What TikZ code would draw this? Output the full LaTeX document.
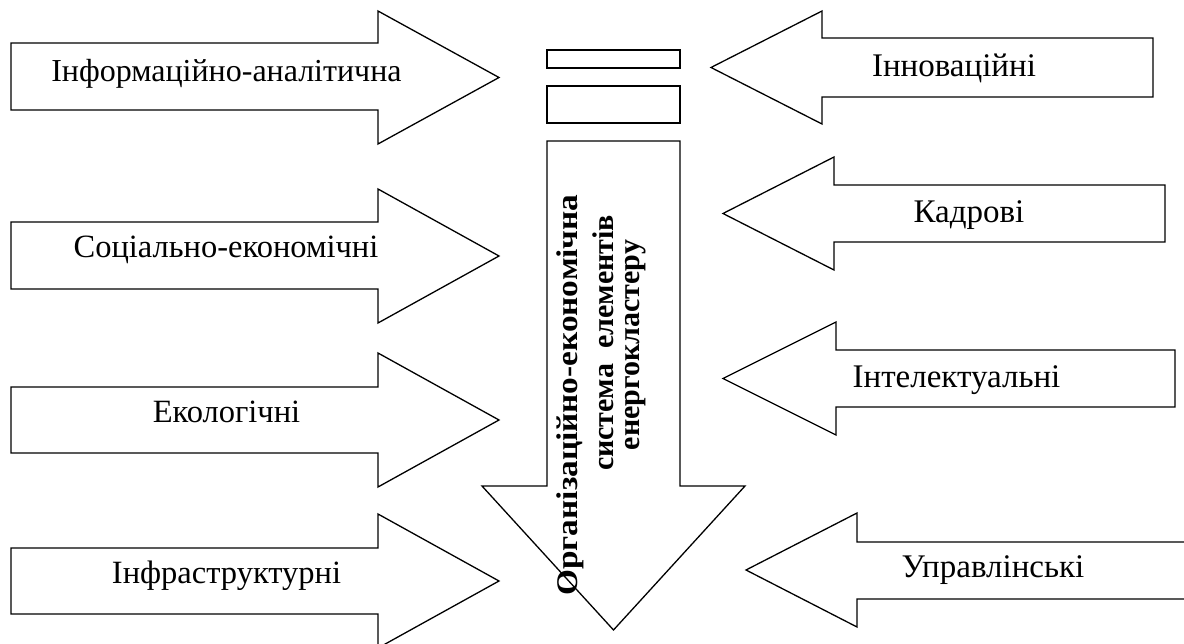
\documentclass[tikz,border=0pt]{standalone}
\usepackage{fontspec}
\setmainfont{Liberation Serif}
\begin{document}
\begin{tikzpicture}[x=1pt,y=-1pt,
  shp/.style={draw=black,line width=1.3pt,fill=white,line join=miter},
  lbl/.style={inner sep=0pt,anchor=base,font=\fontsize{32.5}{36}\selectfont},
  rlbl/.style={lbl,font=\fontsize{33}{36}\selectfont},
  vlbl/.style={inner sep=0pt,rotate=90,font=\fontsize{30}{34}\selectfont\bfseries}]
\useasboundingbox (0,0) rectangle (1184,644);
\fill[white] (0,0) rectangle (1184,644);
% left arrows
\draw[shp] (11,43) -- (378,43) -- (378,11) -- (499,77.5) -- (378,144) -- (378,110) -- (11,110) -- cycle;
\draw[shp] (11,222) -- (378,222) -- (378,189) -- (499,256) -- (378,323) -- (378,289) -- (11,289) -- cycle;
\draw[shp] (11,387) -- (378,387) -- (378,353) -- (499,420) -- (378,487) -- (378,453) -- (11,453) -- cycle;
\draw[shp] (11,548) -- (378,548) -- (378,514) -- (499,581) -- (378,648) -- (378,614) -- (11,614) -- cycle;
% right arrows
\draw[shp] (1153,38) -- (822,38) -- (822,11) -- (711,67.5) -- (822,124) -- (822,97) -- (1153,97) -- cycle;
\draw[shp] (1165,185) -- (834,185) -- (834,157) -- (723,213.5) -- (834,270) -- (834,242) -- (1165,242) -- cycle;
\draw[shp] (1175,350) -- (836,350) -- (836,322) -- (723,378.5) -- (836,435) -- (836,407) -- (1175,407) -- cycle;
\draw[shp] (1190,542) -- (857,542) -- (857,513) -- (746,570) -- (857,627) -- (857,599) -- (1190,599) -- cycle;
% small rectangles
\draw[shp] (547,50) rectangle (680,68);
\draw[shp] (547,86) rectangle (680,123);
% central down arrow
\draw[shp] (547,141) -- (680,141) -- (680,486) -- (745,486) -- (613.5,630) -- (482,486) -- (547,486) -- cycle;
% labels
\node[lbl,font=\fontsize{32}{36}\selectfont] (t1) at (226.5,82) {Інформаційно-аналітична};
\node[lbl] (t2) at (226,258) {Соціально-економічні};
\node[lbl] (t3) at (226.5,422) {Екологічні};
\node[lbl] (t4) at (226.5,583) {Інфраструктурні};
\node[rlbl] (t5) at (954,77) {Інноваційні};
\node[rlbl] (t6) at (969,223) {Кадрові};
\node[rlbl] (t7) at (956.5,388) {Інтелектуальні};
\node[rlbl] (t8) at (993,577) {Управлінські};
\node[vlbl] (v1) at (570,395) {\scalebox{1.11}[1]{Організаційно-економічна}};
\node[vlbl] (v2) at (603,343) {система\ \ елементів};
\node[vlbl] (v3) at (636,345) {енергокластеру};
\end{tikzpicture}
\end{document}
